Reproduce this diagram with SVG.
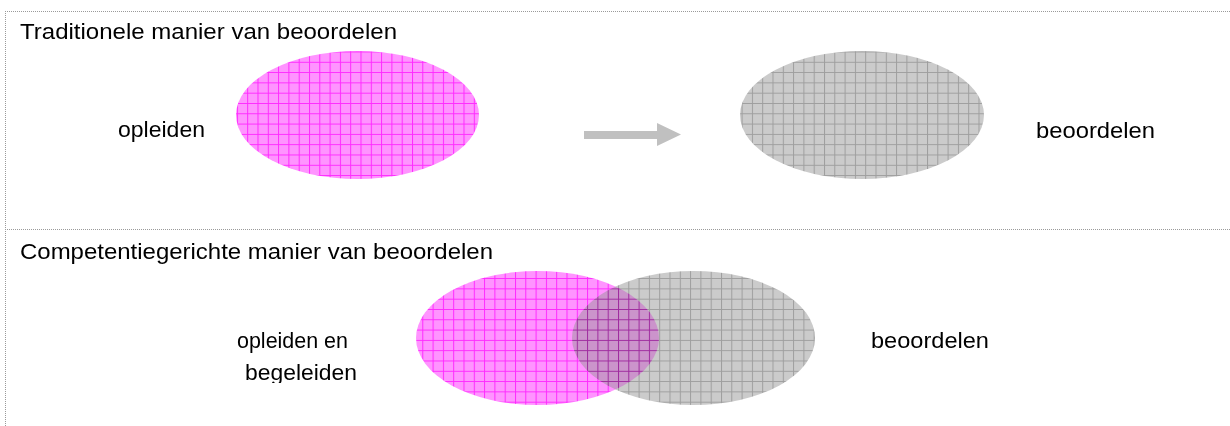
<svg xmlns="http://www.w3.org/2000/svg" width="1230" height="426" viewBox="0 0 1230 426">
  <style>
    .frame { stroke: #9a9a9a; stroke-width: 1; stroke-dasharray: 1 1; fill: none; }
    .lbl { font-family: "Liberation Sans", Arial, sans-serif; font-size: 22px; fill: #000; }
    .pink { fill: url(#pinkGrid); }
    .grey { fill: url(#greyGrid); }
  </style>
  <defs>
    <pattern id="pinkGrid" patternUnits="userSpaceOnUse" width="10.3" height="10.3">
      <rect width="10.3" height="10.3" fill="#ff94ff"/>
      <path d="M0.5 0 V10.3 M0 0.5 H10.3" stroke="#ff2aff" stroke-width="1"/>
    </pattern>
    <pattern id="greyGrid" patternUnits="userSpaceOnUse" width="10.3" height="10.3">
      <rect width="10.3" height="10.3" fill="#cbcbcb"/>
      <path d="M0.5 0 V10.3 M0 0.5 H10.3" stroke="#9e9e9e" stroke-width="1"/>
    </pattern>
    <clipPath id="clipBeg">
      <rect x="0" y="0" width="1230" height="383"/>
    </clipPath>
  </defs>

  <g id="frames">
    <line class="frame" x1="5" y1="11.5" x2="1230" y2="11.5"/>
    <line class="frame" x1="5.5" y1="11" x2="5.5" y2="426"/>
    <line class="frame" x1="5" y1="229.5" x2="1230" y2="229.5"/>
  </g>

  <g id="title-traditional">
    <text class="lbl" x="20" y="39" textLength="377" lengthAdjust="spacingAndGlyphs">Traditionele manier van beoordelen</text>
  </g>

  <g id="node-opleiden-top">
    <ellipse class="pink" cx="357.5" cy="115" rx="121.5" ry="64"/>
    <text class="lbl" x="118" y="137" textLength="87" lengthAdjust="spacingAndGlyphs">opleiden</text>
  </g>

  <g id="node-beoordelen-top">
    <ellipse class="grey" cx="862" cy="115" rx="122" ry="64"/>
    <text class="lbl" x="1036" y="138" textLength="119" lengthAdjust="spacingAndGlyphs">beoordelen</text>
  </g>

  <g id="connectors">
    <polygon points="584,131 657,131 657,123 681,134.5 657,146 657,139 584,139" fill="#c0c0c0"/>
  </g>

  <g id="title-competence">
    <text class="lbl" x="20" y="259" textLength="473" lengthAdjust="spacingAndGlyphs">Competentiegerichte manier van beoordelen</text>
  </g>

  <g id="node-opleiden-begeleiden">
    <ellipse class="pink" cx="537.5" cy="338" rx="121.5" ry="67"/>
    <text class="lbl" x="237" y="348" textLength="111" lengthAdjust="spacingAndGlyphs">opleiden en</text>
    <text class="lbl" x="245" y="380" textLength="112" lengthAdjust="spacingAndGlyphs" clip-path="url(#clipBeg)">begeleiden</text>
  </g>

  <g id="node-beoordelen-bottom">
    <ellipse class="grey" cx="693.5" cy="338" rx="121.5" ry="67" style="mix-blend-mode: darken"/>
    <text class="lbl" x="871" y="348" textLength="118" lengthAdjust="spacingAndGlyphs">beoordelen</text>
  </g>
</svg>
